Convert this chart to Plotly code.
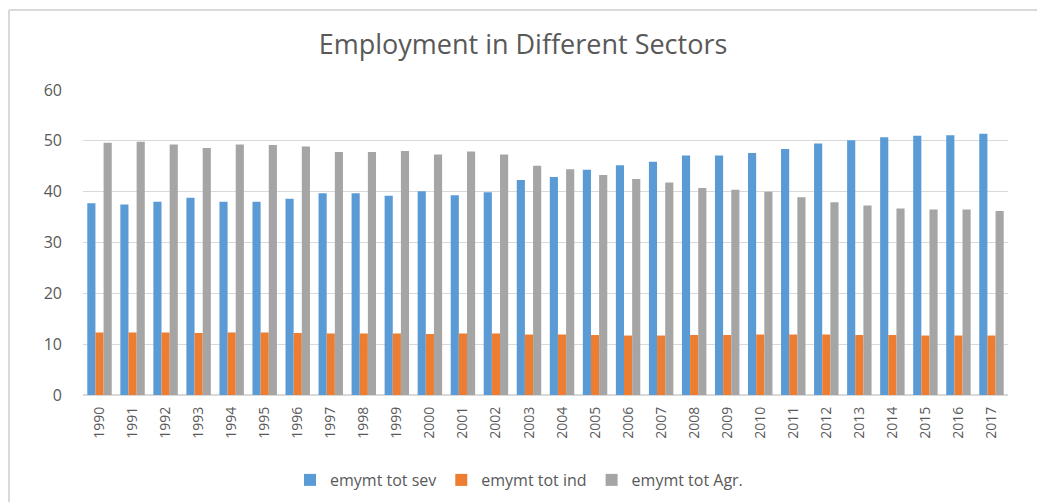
import plotly.graph_objects as go

years = [str(y) for y in range(1990, 2018)]
services = [37.7, 37.5, 38.0, 38.8, 38.0, 38.0, 38.6, 39.7, 39.7, 39.2,
            40.1, 39.3, 39.9, 42.3, 42.9, 44.3, 45.2, 45.9, 47.1, 47.1,
            47.6, 48.4, 49.5, 50.1, 50.7, 51.0, 51.1, 51.4]
industry = [12.3, 12.3, 12.3, 12.2, 12.3, 12.3, 12.2, 12.1, 12.1, 12.1,
            12.0, 12.1, 12.1, 11.9, 11.9, 11.8, 11.7, 11.7, 11.8, 11.8,
            11.9, 11.9, 11.9, 11.8, 11.8, 11.7, 11.7, 11.7]
agriculture = [49.6, 49.8, 49.3, 48.6, 49.3, 49.2, 48.9, 47.8, 47.8, 48.0,
               47.3, 47.9, 47.3, 45.1, 44.4, 43.3, 42.5, 41.8, 40.7, 40.4,
               40.0, 38.9, 37.9, 37.3, 36.7, 36.5, 36.5, 36.2]

series_names = ["emymt tot sev", "emymt tot ind", "emymt tot Agr."]
colors = ["#5B9BD5", "#ED7D31", "#A5A5A5"]
y_ticks = [0, 10, 20, 30, 40, 50, 60]

FONT = "Open Sans, Noto Sans, sans-serif"
TXT = "#595959"

# page body has an 8px margin, so figure coordinates are offset by 8px
L, R, T, B = 75, 45, 82, 115
PW, PH = 1045 - L - R, 502 - T - B


def px(x):
    return (x - L) / PW


def py(y):
    return (502 - B - y) / PH


fig = go.Figure()
for name, vals, col in zip(series_names, [services, industry, agriculture], colors):
    fig.add_trace(go.Bar(x=years, y=vals, name=name, marker_color=col,
                         marker_line_width=0))

fig.update_layout(
    width=1045, height=502,
    margin=dict(l=L, r=R, t=T, b=B),
    paper_bgcolor="white", plot_bgcolor="white",
    barmode="group", bargap=0.26, bargroupgap=0.0,
    title=dict(text="Employment in Different Sectors", x=515 / 1045, xanchor="center",
               y=1 - 37 / 502, yanchor="middle", yref="container",
               font=dict(family=FONT, size=27, color=TXT)),
    font=dict(family=FONT, color=TXT),
    showlegend=True,
    legend=dict(orientation="h", x=px(511), xanchor="center", yref="container",
                y=1 - 472 / 502, yanchor="middle",
                font=dict(family=FONT, size=16, color=TXT),
                itemwidth=30, traceorder="normal"),
    xaxis=dict(type="category", tickangle=-90, showgrid=False, showline=False,
               ticks="", ticklabelstandoff=8,
               tickfont=dict(family=FONT, size=14, color=TXT)),
    yaxis=dict(range=[0, 60], tickvals=y_ticks, showgrid=True,
               gridcolor="#D9D9D9", gridwidth=1, zeroline=True,
               zerolinecolor="#D9D9D9", showline=False, ticks="",
               ticklabelstandoff=20,
               tickfont=dict(family=FONT, size=16, color=TXT)),
    shapes=[
        dict(type="line", xref="paper", yref="paper",
             x0=px(1), x1=px(1), y0=py(2), y1=py(502),
             line=dict(color="#D9D9D9", width=2)),
        dict(type="line", xref="paper", yref="paper",
             x0=px(1), x1=px(1045), y0=py(2), y1=py(2),
             line=dict(color="#D9D9D9", width=2)),
    ],
)

fig.write_html("out.html")
